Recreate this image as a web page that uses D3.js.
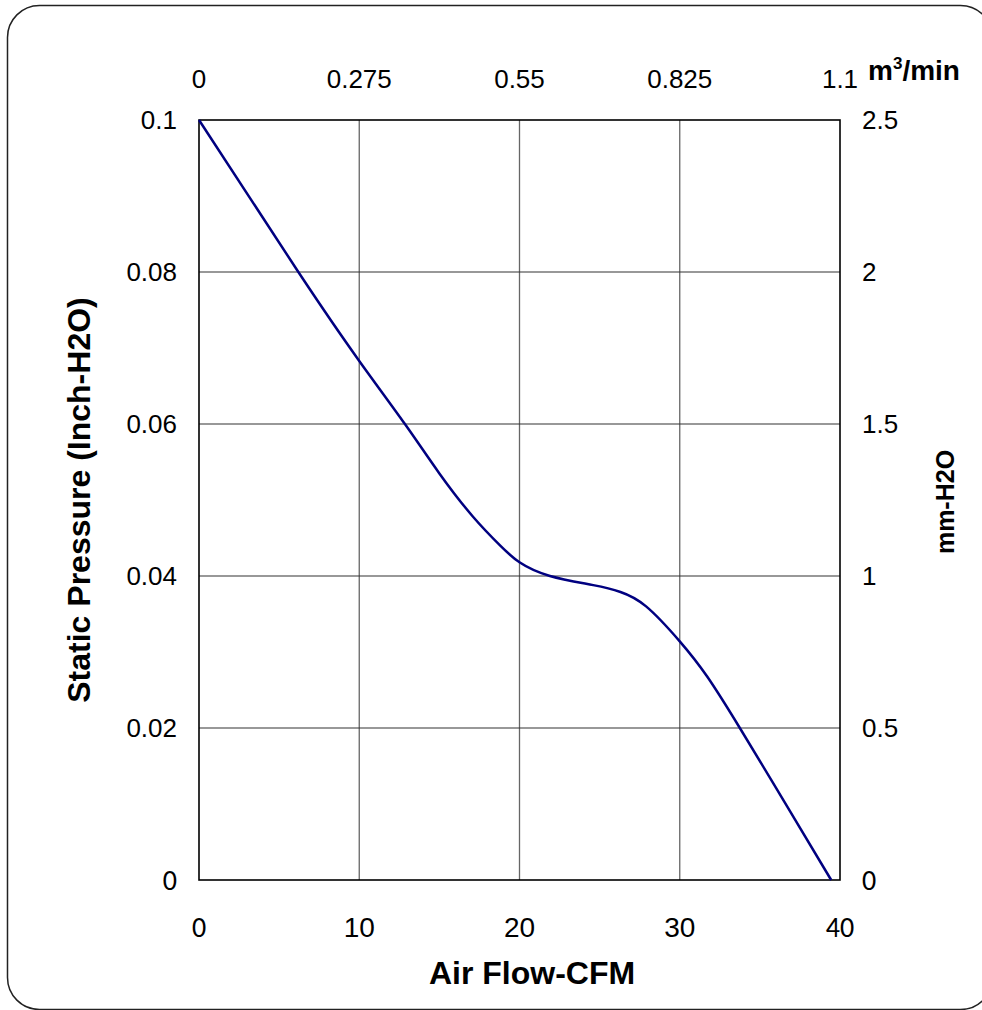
<!DOCTYPE html>
<html>
<head>
<meta charset="utf-8">
<script src="https://cdn.jsdelivr.net/npm/d3@7"></script>
<style>
  body { margin: 0; background: #fff; }
  svg { display: block; }
</style>
</head>
<body>
<svg id="chart"></svg>
<script>
// air flow (CFM) vs static pressure (inch-H2O)
const flowCFM = [0, 6.2, 10, 12.85, 15, 17.1, 18.8, 20, 21.9, 24.6, 26.3, 27.9, 30, 31.7, 33.75, 36.7, 39.45];
const pressureInch = [0.1, 0.08, 0.0683, 0.06, 0.0535, 0.0478, 0.0440, 0.0418, 0.04, 0.0388, 0.0379, 0.036, 0.0314, 0.0268, 0.02, 0.0097, 0];

const bottomTicks = [0, 10, 20, 30, 40];
const topTicks = [0, 0.275, 0.55, 0.825, 1.1];
const leftTicks = [0, 0.02, 0.04, 0.06, 0.08, 0.1];
const rightTicks = [0, 0.5, 1, 1.5, 2, 2.5];

const width = 982;
const height = 1010;
const plotLeft = 199, plotRight = 840, plotTop = 120, plotBottom = 880;
const font = "Arial, 'Liberation Sans', sans-serif";
const zeroFont = "Carlito, 'Open Sans', sans-serif";
const tickSize = 26;
const titleSize = 32;

const svg = d3.select("#chart")
  .attr("width", width)
  .attr("height", height);

// rounded outer frame
svg.append("rect")
  .attr("x", 7.5)
  .attr("y", 5.5)
  .attr("width", 985)
  .attr("height", 1004)
  .attr("rx", 32)
  .attr("fill", "none")
  .attr("stroke", "#222")
  .attr("stroke-width", 1.5);

const x = d3.scaleLinear().domain([0, 40]).range([plotLeft, plotRight]);
const xTop = d3.scaleLinear().domain([0, 1.1]).range([plotLeft, plotRight]);
const y = d3.scaleLinear().domain([0, 0.1]).range([plotBottom, plotTop]);
const yRight = d3.scaleLinear().domain([0, 2.5]).range([plotBottom, plotTop]);

// grid
svg.append("g")
  .selectAll("line")
  .data(bottomTicks.slice(1, -1))
  .enter()
  .append("line")
  .attr("x1", d => x(d))
  .attr("x2", d => x(d))
  .attr("y1", plotTop)
  .attr("y2", plotBottom)
  .attr("stroke", "#666")
  .attr("stroke-width", 1.3);

svg.append("g")
  .selectAll("line")
  .data(leftTicks.slice(1, -1))
  .enter()
  .append("line")
  .attr("x1", plotLeft)
  .attr("x2", plotRight)
  .attr("y1", d => y(d))
  .attr("y2", d => y(d))
  .attr("stroke", "#333")
  .attr("stroke-width", 1.2);

// plot frame
svg.append("rect")
  .attr("x", plotLeft)
  .attr("y", plotTop)
  .attr("width", plotRight - plotLeft)
  .attr("height", plotBottom - plotTop)
  .attr("fill", "none")
  .attr("stroke", "#000")
  .attr("stroke-width", 1.6);

// tick labels
const pickFont = d => (d === 0 || d === 40) ? zeroFont : font;

svg.append("g")
  .selectAll("text")
  .data(bottomTicks)
  .enter()
  .append("text")
  .attr("x", d => x(d))
  .attr("y", 937)
  .attr("text-anchor", "middle")
  .attr("font-family", pickFont)
  .attr("font-size", tickSize + 2)
  .text(d => d);

svg.append("g")
  .selectAll("text")
  .data(topTicks)
  .enter()
  .append("text")
  .attr("x", d => xTop(d))
  .attr("y", 88)
  .attr("text-anchor", "middle")
  .attr("font-family", font)
  .attr("font-size", tickSize)
  .text(d => d);

svg.append("g")
  .selectAll("text")
  .data(leftTicks)
  .enter()
  .append("text")
  .attr("x", 177)
  .attr("y", d => y(d))
  .attr("dy", "0.36em")
  .attr("text-anchor", "end")
  .attr("font-family", pickFont)
  .attr("font-size", d => d === 0 ? tickSize + 2 : tickSize)
  .text(d => d);

svg.append("g")
  .selectAll("text")
  .data(rightTicks)
  .enter()
  .append("text")
  .attr("x", 862)
  .attr("y", d => yRight(d))
  .attr("dy", "0.36em")
  .attr("text-anchor", "start")
  .attr("font-family", pickFont)
  .attr("font-size", d => d === 0 ? tickSize + 2 : tickSize)
  .text(d => d);

// axis titles
svg.append("text")
  .attr("x", 532)
  .attr("y", 984)
  .attr("text-anchor", "middle")
  .attr("font-family", font)
  .attr("font-size", titleSize)
  .attr("font-weight", "bold")
  .text("Air Flow-CFM");

svg.append("text")
  .attr("transform", "translate(90," + ((plotTop + plotBottom) / 2) + ") rotate(-90)")
  .attr("text-anchor", "middle")
  .attr("font-family", font)
  .attr("font-size", titleSize)
  .attr("font-weight", "bold")
  .text("Static Pressure (Inch-H2O)");

svg.append("text")
  .attr("transform", "translate(954,502) rotate(-90)")
  .attr("text-anchor", "middle")
  .attr("font-family", font)
  .attr("font-size", 25)
  .attr("font-weight", "bold")
  .text("mm-H2O");

const unit = svg.append("text")
  .attr("x", 868)
  .attr("y", 80)
  .attr("font-family", font)
  .attr("font-size", 28)
  .attr("font-weight", "bold");
unit.append("tspan").text("m");
unit.append("tspan").attr("dy", -11).attr("font-size", 17).text("3");
unit.append("tspan").attr("dy", 11).text("/min");

// P-Q curve
const line = d3.line()
  .x((d, i) => x(flowCFM[i]))
  .y((d, i) => y(pressureInch[i]))
  .curve(d3.curveNatural);

svg.append("path")
  .datum(flowCFM)
  .attr("d", line)
  .attr("fill", "none")
  .attr("stroke", "#000080")
  .attr("stroke-width", 2.5);
</script>
</body>
</html>
